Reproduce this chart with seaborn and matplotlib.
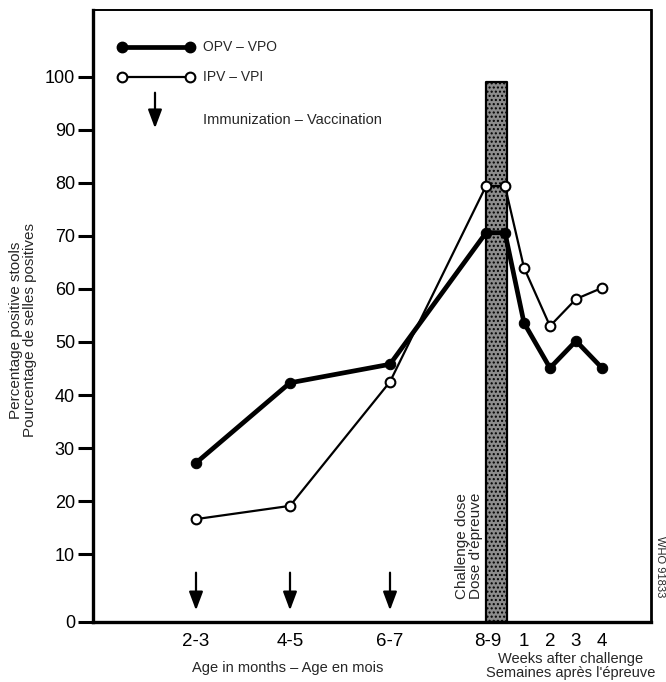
import pandas as pd
import matplotlib
matplotlib.use("Agg")
import matplotlib.pyplot as plt
import seaborn as sns

# Dados
stage = ["2-3", "4-5", "6-7", "8-9", "8-9", "1", "2", "3", "4"]
opv = [27.2, 42.3, 45.8, 70.6, 70.6, 53.6, 45.1, 50.2, 45.1]
ipv = [16.6, 19.1, 42.5, 79.4, 79.4, 64.0, 53.0, 58.1, 60.2]
vaccination_at = ["2-3", "4-5", "6-7"]
challenge_top = 99
age_labels = ["2-3", "4-5", "6-7", "8-9"]
week_labels = ["1", "2", "3", "4"]
y_labels = ["0", "10", "20", "30", "40", "50", "60", "70", "80", "90", "100"]

# Layout (eixo x em escala de pixels da figura original)
x_pos = [196, 290, 390, 486, 505, 524, 550, 576, 602]
age_tick_pos = [196, 290, 390, 488]
week_tick_pos = [524, 550, 576, 602]
band = (486, 507)
ymin, ymax = -2.8, 112.6

sns.set_theme(style="ticks")
plt.rcParams['font.family'] = ['Liberation Sans', 'DejaVu Sans']

df = pd.DataFrame({"stage": stage, "x": x_pos, "opv": opv, "ipv": ipv})

fig = plt.figure(figsize=(6.66, 6.82), dpi=100)
ax = fig.add_axes([93 / 666, 1 - 622 / 682, (651 - 93) / 666, (622 - 10) / 682])

# Faixa da dose de desafio
ax.fill_between(band, [ymin, ymin], [challenge_top, challenge_top], facecolor="#8c8c8c",
                edgecolor="black", hatch="....", linewidth=1.6, zorder=1)

# Séries
sns.lineplot(data=df, x="x", y="opv", ax=ax, color="black", linewidth=3.4,
             marker="o", markersize=7.5, markerfacecolor="black",
             markeredgecolor="black", zorder=3)
sns.lineplot(data=df, x="x", y="ipv", ax=ax, color="black", linewidth=1.6,
             marker="o", markersize=7, markerfacecolor="white",
             markeredgecolor="black", markeredgewidth=1.5, zorder=4)

# Setas de vacinação
arrow_kw = dict(arrowstyle="-|>,head_length=0.8,head_width=0.3", lw=1.6,
                color="black", mutation_scale=14, shrinkA=0, shrinkB=0)
for lab in vaccination_at:
    xv = x_pos[stage.index(lab)]
    ax.annotate("", xy=(xv, -0.6), xytext=(xv, 6.5), arrowprops=arrow_kw)

# Legenda manual
ax.plot([122, 190], [105.7, 105.7], color="black", lw=3.4, marker="o",
        markersize=7.5, clip_on=False)
ax.plot([122, 190], [100, 100], color="black", lw=1.6, marker="o", markersize=7,
        markerfacecolor="white", markeredgewidth=1.5, clip_on=False)
ax.annotate("", xy=(155, 90.3), xytext=(155, 97.0), arrowprops=arrow_kw)
ax.text(203, 105.7, "OPV – VPO", fontsize=10, va="center")
ax.text(203, 100, "IPV – VPI", fontsize=10, va="center")
ax.text(203, 91.8, "Immunization – Vaccination", fontsize=10.5, va="center")

ax.text(469, 1.6, "Challenge dose\nDose d'épreuve", rotation=90, fontsize=11,
        ha="center", va="bottom", multialignment="left", linespacing=0.95)

# Eixos
ax.set_xlim(93, 651)
ax.set_ylim(ymin, ymax)
ax.set_yticks([ymin] + list(range(10, 101, 10)), y_labels)
ax.set_xticks(age_tick_pos + week_tick_pos, age_labels + week_labels)
ax.set_xticks(week_tick_pos, minor=True)
ax.tick_params(axis="y", direction="out", length=11, width=2.2, labelsize=13,
               pad=2, colors="black")
ax.tick_params(axis="x", which="major", length=0, labelsize=13.5, pad=8,
               colors="black")
ax.tick_params(axis="x", which="minor", direction="in", length=6, width=1.5)
ax.set_xlabel("")
ax.set_ylabel("")

for side, lw in [("left", 2.4), ("bottom", 2.4), ("top", 1.4), ("right", 2.0)]:
    ax.spines[side].set_visible(True)
    ax.spines[side].set_linewidth(lw)
    ax.spines[side].set_color("black")

# Rótulos
fig.text(23 / 666, 1 - 330 / 682,
         "Percentage positive stools\nPourcentage de selles positives",
         rotation=90, ha="center", va="center", fontsize=11, linespacing=1.0)
fig.text(288 / 666, 1 - 668 / 682, "Age in months – Age en mois",
         ha="center", va="center", fontsize=10.5)
fig.text(571 / 666, 1 - 666 / 682,
         "Weeks after challenge\nSemaines après l'épreuve",
         ha="center", va="center", fontsize=10.5, linespacing=0.95)
fig.text(660 / 666, 1 - 567 / 682, "WHO 91833", rotation=270,
         ha="center", va="center", fontsize=8)

plt.savefig("out.png", dpi=100)
